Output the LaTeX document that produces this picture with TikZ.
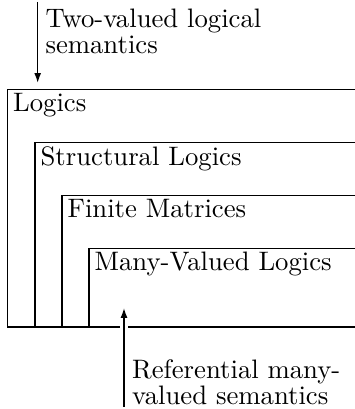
\documentclass[tikz,border=0pt]{standalone}
\usepackage{tikz}
\usetikzlibrary{positioning, calc, arrows.meta}
\tikzset{
    frame/.style={line width=0.7pt, line cap=rect},
    pointer/.style={-{Latex[length=3.7pt,width=2.6pt]}, line width=0.55pt},
    framelabel/.style={anchor=north west, inner xsep=1.9pt, inner ysep=1.3pt},
    remark/.style={anchor=north west, align=left, inner sep=0pt, font=\fontsize{10}{10}\selectfont}
}
\begin{document}
\begin{tikzpicture}

\useasboundingbox (0,0) rectangle (4.672,-5.383);

% Corners of the nested frames
\coordinate (edge) at (4.75,0);
\coordinate (logics) at (0.099,-1.178);
\coordinate (struct) at (0.461,-1.875);
\coordinate (finite) at (0.816,-2.573);
\coordinate (manyval) at (1.171,-3.270);
\coordinate (floor) at (0.099,-4.303);

% Frames (open to the right)
\draw[frame] (logics -| edge) -- (logics) -- (logics |- floor);
\draw[frame] (struct -| edge) -- (struct) -- (struct |- floor);
\draw[frame] (finite -| edge) -- (finite) -- (finite |- floor);
\draw[frame] (manyval -| edge) -- (manyval) -- (manyval |- floor);

\node[framelabel] (l_logics) at (logics) {Logics};
\node[framelabel] (l_struct) at (struct) {Structural Logics};
\node[framelabel] (l_finite) at (finite) {Finite Matrices};
\node[framelabel] (l_manyval) at (manyval) {Many-Valued Logics};

% Common bottom line, broken where the arrow passes
\coordinate (gap west) at (1.566,-4.303);
\coordinate (gap east) at (1.698,-4.303);
\draw[frame] (floor) -- (gap west);
\draw[frame] (gap east) -- (floor -| edge);

% Top arrow
\coordinate (two top) at (0.496,-0.026);
\coordinate (two tip) at (0.496,-1.092);
\draw[pointer] (two top) -- (two tip);
\node[remark] (two_note) at (0.592,-0.108) {Two-valued logical\\semantics};

% Bottom arrow
\coordinate (ref foot) at (1.632,-5.356);
\coordinate (ref tip) at (1.632,-4.053);
\draw[pointer] (ref foot) -- (ref tip);
\node[remark] (ref_note) at (1.733,-4.722) {Referential many-\\valued semantics};

\end{tikzpicture}
\end{document}
